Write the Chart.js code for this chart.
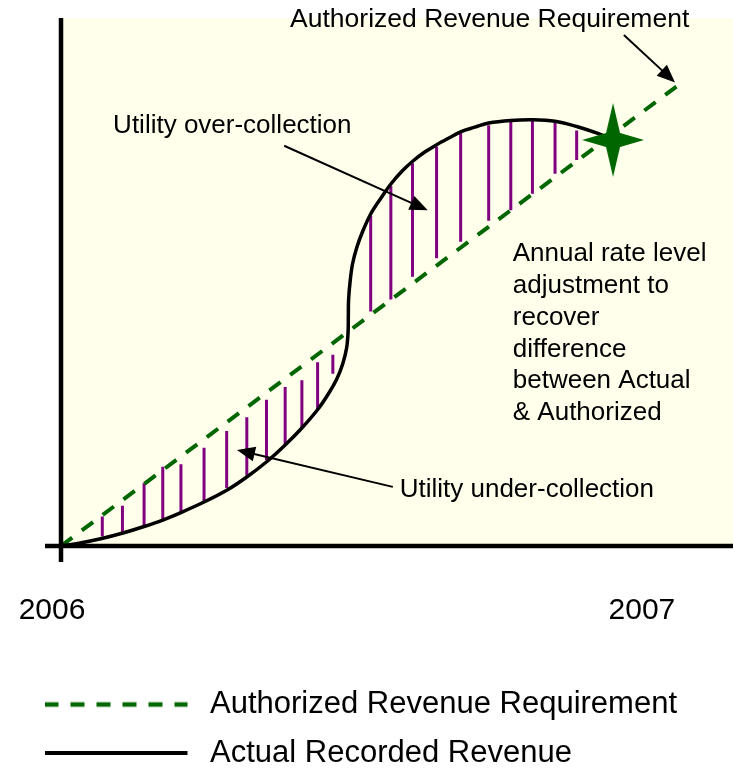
<!DOCTYPE html>
<html>
<head>
<meta charset="utf-8">
<script src="https://cdn.jsdelivr.net/npm/chart.js@4"></script>
<style>
  body { margin: 0; background: #fff; }
  #wrap { width: 733px; height: 773px; position: relative; }
</style>
</head>
<body>
<div id="wrap"><canvas id="chart"></canvas></div>
<script>
// x = months after the start of 2006, y = share of the year's authorized revenue
const xTickValues = [0, 12];
const xTickLabels = ['2006', '2007'];

const authX = [0, 12.59];
const authY = [0, 87.5];

const actualX = [0, 0.39, 0.83, 1.26, 1.69, 2.07, 2.44, 2.91, 3.38, 3.78, 4.19, 4.56, 4.90, 5.23, 5.45, 5.61,
  5.73, 5.81, 5.84, 5.845, 5.85, 5.88, 5.93, 6.02, 6.14, 6.30, 6.51, 6.71, 6.94, 7.16, 7.40, 7.65, 7.89,
  8.14, 8.42, 8.70, 9.15, 9.60, 10.05, 10.49, 10.92, 11.23];
const actualY = [0, 0.57, 1.42, 2.46, 3.69, 4.92, 6.34, 8.33, 10.61, 13.07, 16.0, 19.13, 22.35, 25.95, 28.98, 31.63,
  34.47, 37.5, 40.53, 43.56, 46.59, 50.0, 53.41, 56.63, 59.66, 62.88, 65.91, 68.56, 71.02, 72.92, 74.62, 76.04, 77.27,
  78.5, 79.32, 80.11, 80.59, 80.72, 80.44, 79.45, 78.13, 76.89];

// purple gap markers between the two curves
const gapX = [0.84, 1.25, 1.69, 2.07, 2.44, 2.91, 3.37, 3.78, 4.18, 4.56, 4.90, 5.22, 5.53,
  6.30, 6.71, 7.15, 7.64, 8.13, 8.70, 9.15, 9.59, 10.05, 10.49];
const gapLow = [1.8, 2.5, 4.0, 5.1, 6.5, 8.3, 11.0, 13.3, 16.3, 19.3, 22.5, 25.9, 32.6,
  44.4, 46.7, 51.0, 54.5, 57.6, 61.6, 63.6, 66.7, 70.5, 73.1];
const gapHigh = [5.6, 7.6, 11.9, 15.0, 15.5, 18.6, 21.8, 24.4, 27.7, 30.1, 31.4, 34.8, 36.2,
  62.5, 68.2, 72.5, 75.6, 78.2, 79.7, 80.4, 80.6, 80.2, 78.7];

const starX = [11.23];
const starY = [76.9];

const FONT = '"Liberation Sans", Arial, sans-serif';

function makeStar(w, h, color) {
  const c = document.createElement('canvas');
  c.width = w; c.height = h;
  const g = c.getContext('2d');
  const cx = w / 2, cy = h / 2, r = 7;
  g.fillStyle = color;
  g.beginPath();
  g.moveTo(cx, 0);
  g.lineTo(cx + r, cy - r);
  g.lineTo(w, cy);
  g.lineTo(cx + r, cy + r);
  g.lineTo(cx, h);
  g.lineTo(cx - r, cy + r);
  g.lineTo(0, cy);
  g.lineTo(cx - r, cy - r);
  g.closePath();
  g.fill();
  return c;
}

// legend sample line (Chart.js does not dash point-style legend lines)
function makeSample(w, len, color, width, dash) {
  const c = document.createElement('canvas');
  c.width = w; c.height = 8;
  const g = c.getContext('2d');
  g.strokeStyle = color;
  g.lineWidth = width;
  g.setLineDash(dash);
  g.beginPath();
  g.moveTo(0, 4);
  g.lineTo(len, 4);
  g.stroke();
  return c;
}

function arrow(ctx, x1, y1, x2, y2) {
  const a = Math.atan2(y2 - y1, x2 - x1);
  const len = 18, half = 7.5;
  const c = Math.cos(a), s = Math.sin(a);
  ctx.beginPath();
  ctx.moveTo(x1, y1);
  ctx.lineTo(x2 - c * len * 0.8, y2 - s * len * 0.8);
  ctx.stroke();
  ctx.beginPath();
  ctx.moveTo(x2, y2);
  ctx.lineTo(x2 - c * len - s * half, y2 - s * len + c * half);
  ctx.lineTo(x2 - c * len + s * half, y2 - s * len - c * half);
  ctx.closePath();
  ctx.fill();
}

const plotBits = {
  id: 'plotBits',
  beforeDraw(chart) {
    const { ctx, chartArea: a } = chart;
    ctx.save();
    ctx.fillStyle = '#ffffeb';
    ctx.fillRect(a.left, a.top, a.right - a.left, a.bottom - a.top);
    ctx.restore();
  },
  afterDatasetsDraw(chart) {
    const { ctx, chartArea: a, scales: { x, y } } = chart;
    const x0 = x.getPixelForValue(0), y0 = y.getPixelForValue(0);
    ctx.save();
    ctx.strokeStyle = '#000';
    ctx.lineWidth = 4.5;
    ctx.beginPath();
    ctx.moveTo(x0 - 16, y0); ctx.lineTo(a.right, y0);
    ctx.moveTo(x0, a.top); ctx.lineTo(x0, y0 + 16);
    ctx.stroke();
    ctx.restore();
  },
  afterDraw(chart) {
    const { ctx, scales: { x, y } } = chart;
    const px = v => x.getPixelForValue(v), py = v => y.getPixelForValue(v);
    ctx.save();
    ctx.fillStyle = '#000';
    ctx.strokeStyle = '#000';
    ctx.textBaseline = 'middle';
    ctx.textAlign = 'left';
    ctx.font = '26.5px ' + FONT;
    ctx.fillText('Authorized Revenue Requirement', px(4.66), py(99.6));
    ctx.font = '26px ' + FONT;
    ctx.fillText('Utility over-collection', px(1.06), py(79.6));
    ctx.fillText('Utility under-collection', px(6.89), py(10.6));
    const lines = ['Annual rate level', 'adjustment to', 'recover', 'difference', 'between Actual', '& Authorized'];
    lines.forEach((t, i) => ctx.fillText(t, px(9.19), py(55.3) + i * 31.8));
    ctx.lineWidth = 2;
    arrow(ctx, px(11.45), py(96.8), px(12.49), py(87.8));
    arrow(ctx, px(4.54), py(75.8), px(7.46), py(63.6));
    arrow(ctx, px(6.75), py(11.2), px(3.58), py(18.2));
    ctx.restore();
  }
};

const data = {
  datasets: [
    {
      type: 'line',
      label: 'Authorized Revenue Requirement',
      data: authX.map((v, i) => ({ x: v, y: authY[i] })),
      borderColor: '#006600',
      borderWidth: 4,
      borderDash: [14, 12],
      pointRadius: 0,
      pointStyle: makeSample(150, 143, '#006600', 4.5, [14, 12]),
      tension: 0,
      order: 2
    },
    {
      type: 'line',
      label: 'Actual Recorded Revenue',
      data: actualX.map((v, i) => ({ x: v, y: actualY[i] })),
      borderColor: '#000000',
      borderWidth: 3.5,
      pointRadius: 0,
      pointStyle: makeSample(150, 143, '#000000', 4, []),
      tension: 0.35,
      order: 1
    },
    {
      type: 'line',
      label: 'gap',
      data: gapX.flatMap((v, i) => [{ x: v, y: gapLow[i] }, { x: v, y: gapHigh[i] }, { x: v, y: null }]),
      borderColor: '#800080',
      borderWidth: 3,
      pointRadius: 0,
      spanGaps: false,
      tension: 0,
      order: 3
    },
    {
      type: 'scatter',
      label: 'star',
      data: starX.map((v, i) => ({ x: v, y: starY[i] })),
      pointStyle: makeStar(62, 74, '#006600'),
      pointRadius: 5,
      order: 0
    }
  ]
};

const config = {
  type: 'scatter',
  data: data,
  plugins: [plotBits],
  options: {
    responsive: true,
    maintainAspectRatio: false,
    animation: false,
    events: [],
    layout: { autoPadding: false, padding: { top: 18, left: 27, right: 0, bottom: -5.5 } },
    scales: {
      x: {
        type: 'linear',
        min: 0,
        max: 13.67,
        offset: false,
        grid: { display: false },
        border: { display: false },
        afterBuildTicks: s => { s.ticks = xTickValues.map(v => ({ value: v })); },
        afterFit: s => { s.height = 125.5; s.paddingLeft = 0; s.paddingRight = 0; },
        ticks: {
          padding: 39,
          labelOffset: -9,
          maxRotation: 0,
          autoSkip: false,
          color: '#000',
          font: { family: FONT, size: 30 },
          callback: (v, i) => xTickLabels[i]
        }
      },
      y: {
        type: 'linear',
        min: 0,
        max: 100,
        grid: { display: false },
        border: { display: false },
        ticks: { display: false },
        afterFit: s => { s.width = 34; s.paddingTop = 0; s.paddingBottom = 0; }
      }
    },
    plugins: {
      tooltip: { enabled: false },
      legend: {
        position: 'bottom',
        align: 'start',
        labels: {
          usePointStyle: true,
          pointStyleWidth: 150,
          padding: 17.5,
          color: '#000',
          font: { family: FONT, size: 31 },
          filter: item => item.datasetIndex < 2,
          sort: (a, b) => a.datasetIndex - b.datasetIndex
        }
      }
    }
  }
};

const ctx = document.getElementById('chart').getContext('2d');
const chart = new Chart(ctx, config);
</script>
</body>
</html>
